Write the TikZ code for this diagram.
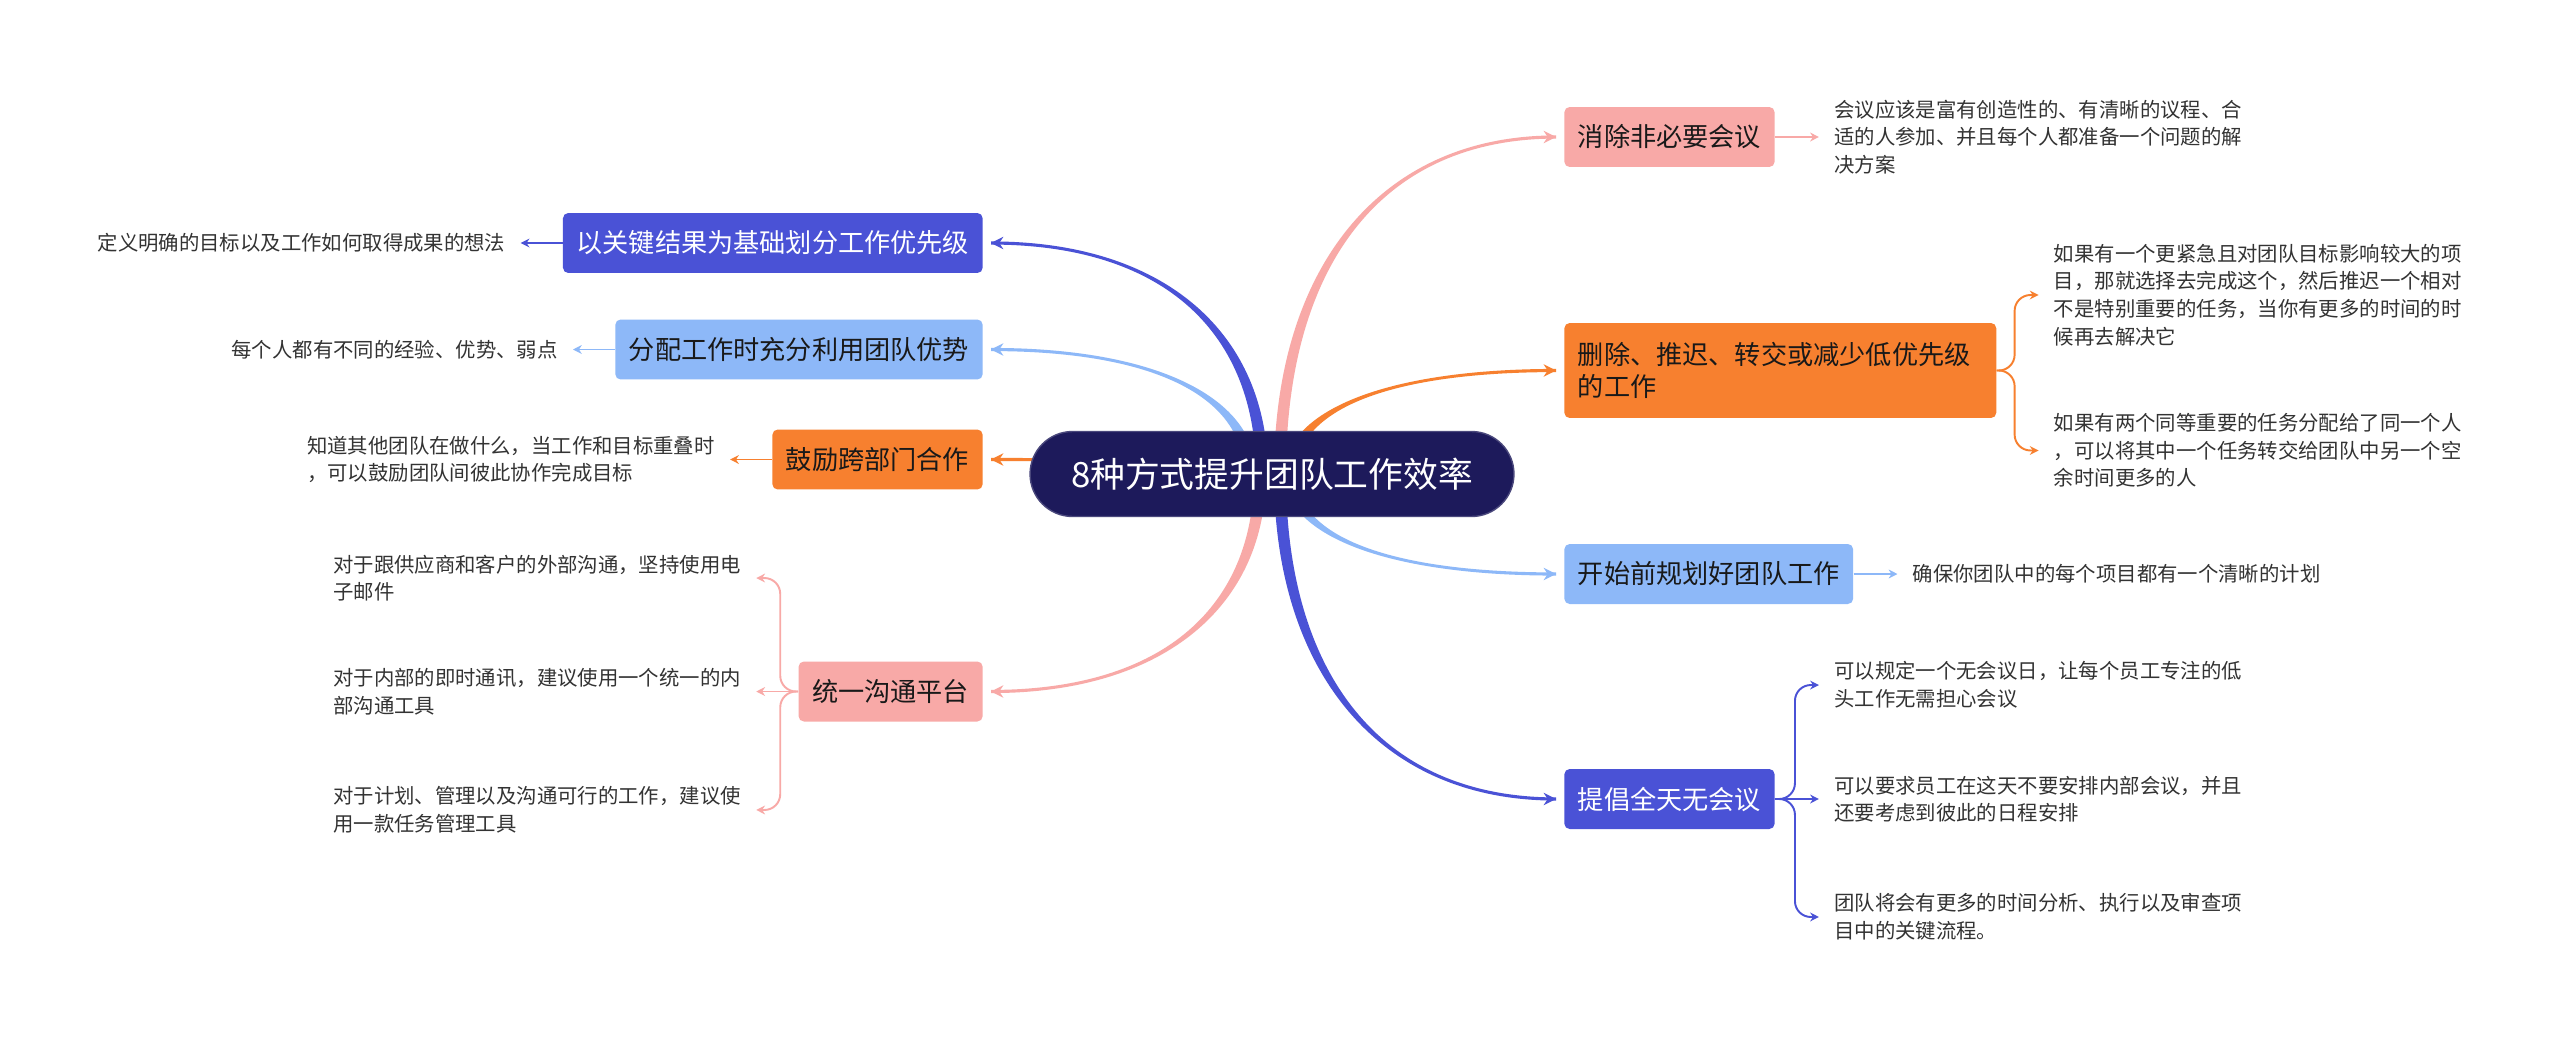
\documentclass[tikz,border=0pt]{standalone}
\usepackage{fontspec}
\setmainfont{Noto Sans CJK SC}
\usetikzlibrary{arrows.meta,positioning,calc}
\definecolor{rootbg}{HTML}{1D1A5B}
\definecolor{deepblue}{HTML}{4A52D6}
\definecolor{skyblue}{HTML}{8DB8F8}
\definecolor{tangerine}{HTML}{F7802F}
\definecolor{salmon}{HTML}{F8A9A7}
\definecolor{inktext}{HTML}{333333}
\pgfdeclarelayer{background}
\pgfsetlayers{background,main}

% tapered branch from the root to a topic box
\newcommand{\branch}[3]{%
  \fill[#1] let \p1=(#2), \p2=(#3), \n1={0.9*sign(\x2-\x1)*sign(\y2-\y1)} in
    (\x1-3.4pt,\y1) .. controls (\x1-3.4pt,{\y1+0.6*(\y2-\y1)}) and ({\x1+0.35*(\x2-\x1)},{\y2+\n1*1pt}) .. (\x2,{\y2+\n1*1pt})
    -- (\x2,{\y2-\n1*1pt}) .. controls ({\x1+0.35*(\x2-\x1)},{\y2-\n1*1pt}) and (\x1+3.4pt,{\y1+0.6*(\y2-\y1)}) .. (\x1+3.4pt,\y1) -- cycle;
  \draw[#1, line width=1.4pt, -{Stealth[length=7pt,width=7pt]}] let \p1=(#2), \p2=(#3) in
    ($(\p2)!9pt!(\x1,\y2)$) -- (\p2);
}

\begin{document}
\begin{tikzpicture}[
  x=0.02cm, y=-0.02cm,
  box/.style={rounded corners=3pt, inner xsep=0.27cm, inner ysep=2pt, minimum height=1.2cm, align=left,
    text=black!90, font=\fontsize{14.9pt}{17.9pt}\selectfont},
  note/.style={inner xsep=0.3cm, inner ysep=0pt, align=left, text=inktext, font=\fontsize{11.6pt}{15.7pt}\selectfont},
  sub/.style={draw=#1, line width=1.1pt, -{Stealth[length=5pt,width=5pt]}}
]
\node[fill=rootbg, draw=rootbg!80!white, line width=0.8pt, text=white, rounded corners=0.85cm,
  minimum width=9.68cm, minimum height=1.7cm, font=\fontsize{19.8pt}{24pt}\selectfont] (root) at (1272,474)
  {8种方式提升团队工作效率};

% left topics
\node[box, fill=deepblue, text=white, anchor=east] (kr) at (983,243) {以关键结果为基础划分工作优先级};
\node[box, fill=skyblue, anchor=east] (team) at (983,349.5) {分配工作时充分利用团队优势};
\node[box, fill=tangerine, anchor=east] (cross) at (983,459.5) {鼓励跨部门合作};
\node[box, fill=salmon, anchor=east] (comm) at (983,691.5) {统一沟通平台};
% right topics
\node[box, fill=salmon, anchor=west] (meet) at (1564,137) {消除非必要会议};
\node[box, fill=tangerine, anchor=west, text width=8.1cm, minimum height=1.9cm] (cut) at (1564,370.5)
  {删除、推迟、转交或减少低优先级\\的工作};
\node[box, fill=skyblue, anchor=west] (plan) at (1564,574) {开始前规划好团队工作};
\node[box, fill=deepblue, text=white, anchor=west] (nomeet) at (1564,799) {提倡全天无会议};

% details
\node[note, left=0.84cm of kr] (kr1) {定义明确的目标以及工作如何取得成果的想法};
\node[note, left=0.84cm of team] (team1) {每个人都有不同的经验、优势、弱点};
\node[note, left=0.84cm of cross] (cross1) {知道其他团队在做什么，当工作和目标重叠时\\，可以鼓励团队间彼此协作完成目标};
\node[note, left=0.84cm of comm, yshift=2.27cm] (comm1) {对于跟供应商和客户的外部沟通，坚持使用电\\子邮件};
\node[note, left=0.84cm of comm] (comm2) {对于内部的即时通讯，建议使用一个统一的内\\部沟通工具};
\node[note, left=0.84cm of comm, yshift=-2.37cm] (comm3) {对于计划、管理以及沟通可行的工作，建议使\\用一款任务管理工具};
\node[note, right=0.88cm of meet] (meet1) {会议应该是富有创造性的、有清晰的议程、合\\适的人参加、并且每个人都准备一个问题的解\\决方案};
\node[note, right=0.84cm of cut, yshift=1.51cm] (cut1) {如果有一个更紧急且对团队目标影响较大的项\\目，那就选择去完成这个，然后推迟一个相对\\不是特别重要的任务，当你有更多的时间的时\\候再去解决它};
\node[note, right=0.84cm of cut, yshift=-1.6cm] (cut2) {如果有两个同等重要的任务分配给了同一个人\\，可以将其中一个任务转交给团队中另一个空\\余时间更多的人};
\node[note, right=0.88cm of plan] (plan1) {确保你团队中的每个项目都有一个清晰的计划};
\node[note, right=0.88cm of nomeet, yshift=2.28cm] (nomeet1) {可以规定一个无会议日，让每个员工专注的低\\头工作无需担心会议};
\node[note, right=0.88cm of nomeet] (nomeet2) {可以要求员工在这天不要安排内部会议，并且\\还要考虑到彼此的日程安排};
\node[note, right=0.88cm of nomeet, yshift=-2.36cm] (nomeet3) {团队将会有更多的时间分析、执行以及审查项\\目中的关键流程。};

\begin{pgfonlayer}{background}
\fill[white] (0,0) rectangle (2560,1041);
\branch{deepblue}{$(root)+(-10,0)$}{$(kr.east)+(8,0)$}
\branch{skyblue}{$(root)+(-22,0)$}{$(team.east)+(8,0)$}
\branch{tangerine}{root}{$(cross.east)+(8,0)$}
\branch{salmon}{$(root)+(-12,0)$}{$(comm.east)+(8,0)$}
\branch{salmon}{$(root)+(8,0)$}{$(meet.west)+(-8,0)$}
\branch{tangerine}{$(root)+(18,0)$}{$(cut.west)+(-8,0)$}
\branch{skyblue}{$(root)+(18,0)$}{$(plan.west)+(-8,0)$}
\branch{deepblue}{$(root)+(8,0)$}{$(nomeet.west)+(-8,0)$}
\end{pgfonlayer}

\draw[sub=deepblue] (kr.west) -- (kr1.east);
\draw[sub=skyblue] (team.west) -- (team1.east);
\draw[sub=tangerine] (cross.west) -- (cross1.east);
\draw[sub=salmon, rounded corners=9pt] (comm.west) -- ++(-18,0) |- (comm1.east);
\draw[sub=salmon] (comm.west) -- (comm2.east);
\draw[sub=salmon, rounded corners=9pt] (comm.west) -- ++(-18,0) |- (comm3.east);
\draw[sub=salmon] (meet.east) -- (meet1.west);
\draw[sub=tangerine, rounded corners=9pt] (cut.east) -- ++(18,0) |- (cut1.west);
\draw[sub=tangerine, rounded corners=9pt] (cut.east) -- ++(18,0) |- (cut2.west);
\draw[sub=skyblue] (plan.east) -- (plan1.west);
\draw[sub=deepblue, rounded corners=9pt] (nomeet.east) -- ++(20,0) |- (nomeet1.west);
\draw[sub=deepblue] (nomeet.east) -- (nomeet2.west);
\draw[sub=deepblue, rounded corners=9pt] (nomeet.east) -- ++(20,0) |- (nomeet3.west);
\end{tikzpicture}
\end{document}
